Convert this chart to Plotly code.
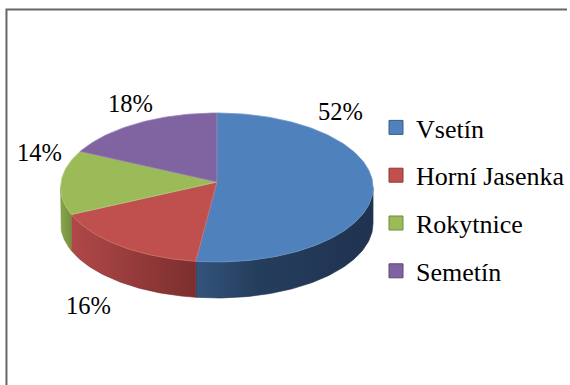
import math
import plotly.graph_objects as go

# Share of respondents by municipality (percent)
categories = ["Vsetín", "Horní Jasenka", "Rokytnice", "Semetín"]
shares = [52, 16, 14, 18]

top_colors = ["#4f81bd", "#c0504d", "#9bbb59", "#8064a2"]
edge_colors = ["#6f97c9", "#cd716e", "#afc97d", "#977fb4"]
legend_borders = ["#385d8a", "#8c3836", "#71893f", "#5c4776"]
side_scales = [
    [[0, "#33547c"], [0.35, "#253d5c"], [1, "#1f3350"]],
    [[0, "#b04848"], [1, "#7c2e2e"]],
    [[0, "#88a64a"], [1, "#768f3f"]],
    [[0, "#6a528a"], [1, "#54406e"]],
]

# label anchor points (pixel space) for the percentage labels
label_pos = [(342, 111), (89, 305), (40, 152), (131, 103)]

SERIF = "'Times New Roman', 'Liberation Serif', serif"

W, H = 570, 385
CX, CY = 218.0, 182.0      # pie centre on screen
RX, RY = 156.6, 74.1       # projected radii
PERSP = 0.0737             # perspective strength (near side larger)
DEPTH = 36.0               # thickness of the pie


def project(theta):
    """Screen point on the top rim for an angle measured clockwise from 12 o'clock."""
    t = math.radians(theta)
    u, v = math.sin(t), -math.cos(t)
    w = 1.0 - PERSP * v
    return CX + RX * u / w, CY + RY * v / w


def arc(a0, a1, step=1.0):
    n = max(2, int(abs(a1 - a0) / step) + 1)
    return [a0 + (a1 - a0) * i / (n - 1) for i in range(n)]


fig = go.Figure()

total = sum(shares)
bounds = []
acc = 0.0
for s in shares:
    start = acc / total * 360.0
    acc += s
    bounds.append((start, acc / total * 360.0))

# visible front part of the rim lies between the two horizontal extremes
front_r = math.degrees(math.acos(-PERSP))
front_l = 360.0 - front_r

# side walls
for (a0, a1), scale in zip(bounds, side_scales):
    s0, s1 = max(a0, front_r), min(a1, front_l)
    if s1 <= s0:
        continue
    angs = arc(s0, s1)
    top = [project(a) for a in angs]
    bottom = [(x, y + DEPTH) for x, y in reversed(top)]
    pts = top + bottom + [top[0]]
    xs = [p[0] for p in pts]
    ys = [p[1] for p in pts]
    fig.add_trace(go.Scatter(
        x=xs, y=ys, mode="lines", fill="toself",
        line=dict(width=0.6, color=scale[-1][1]),
        fillgradient=dict(type="horizontal", colorscale=scale,
                          start=min(xs), stop=max(xs)),
        hoverinfo="skip", showlegend=False,
    ))

# top faces
for (a0, a1), name, fc, ec in zip(bounds, categories, top_colors, edge_colors):
    pts = [(CX, CY)] + [project(a) for a in arc(a0, a1)] + [(CX, CY)]
    fig.add_trace(go.Scatter(
        x=[p[0] for p in pts], y=[p[1] for p in pts],
        mode="lines", fill="toself", fillcolor=fc,
        line=dict(width=0.8, color=ec),
        name=name, hoverinfo="name", showlegend=False,
    ))

# legend keys
for i, (name, fc, bc) in enumerate(zip(categories, top_colors, legend_borders)):
    fig.add_trace(go.Scatter(
        x=[None], y=[None], mode="markers", name=name,
        legendgroup=f"g{i}",
        marker=dict(symbol="square", size=14, color=fc,
                    line=dict(color=bc, width=1)),
    ))

# percentage labels
for (lx, ly), s in zip(label_pos, shares):
    fig.add_annotation(
        x=lx, y=ly, text=f"{s}%", showarrow=False,
        xanchor="center", yanchor="middle",
        font=dict(family=SERIF, size=24.5, color="#000000"),
    )

# chart frame
fig.add_shape(type="rect", x0=6.5, y0=9.5, x1=W + 20, y1=H + 20,
              line=dict(color="#666666", width=2))

fig.update_layout(
    width=W, height=H,
    margin=dict(l=0, r=0, t=0, b=0),
    paper_bgcolor="white", plot_bgcolor="white",
    font=dict(family=SERIF),
    xaxis=dict(range=[0, W], visible=False, fixedrange=True),
    yaxis=dict(range=[H, 0], visible=False, fixedrange=True),
    showlegend=True,
    legend=dict(
        x=378 / W, y=1 - 104 / H, xanchor="left", yanchor="top",
        traceorder="grouped", tracegroupgap=11,
        font=dict(family=SERIF, size=26, color="#000000"),
        bgcolor="rgba(0,0,0,0)", borderwidth=0,
        itemwidth=30,
    ),
)

fig.write_html("out.html")
